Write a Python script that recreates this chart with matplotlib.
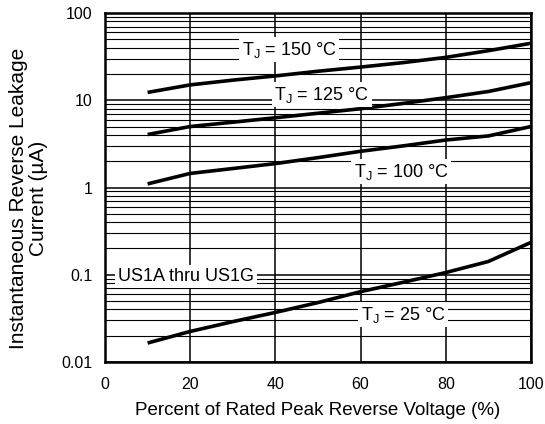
import matplotlib.pyplot as plt
import numpy as np

plt.rcParams['font.family'] = ['Liberation Sans', 'DejaVu Sans']

# percent of rated peak reverse voltage
voltage_pct = [10, 20, 30, 40, 50, 60, 70, 80, 90, 100]

# leakage current (uA) per junction temperature
leak_150 = [12.3, 15.0, 17.0, 19.0, 21.5, 24.0, 27.0, 31.0, 37.0, 45.0]
leak_125 = [4.05, 5.0, 5.6, 6.3, 7.1, 8.0, 9.2, 10.7, 12.6, 15.9]
leak_100 = [1.1, 1.45, 1.65, 1.88, 2.2, 2.6, 3.0, 3.5, 3.9, 5.0]
leak_25 = [0.0165, 0.0224, 0.029, 0.037, 0.048, 0.064, 0.082, 0.106, 0.142, 0.235]

curve_labels = ["T$_\\mathregular{J}$ = 150 °C", "T$_\\mathregular{J}$ = 125 °C",
                "T$_\\mathregular{J}$ = 100 °C", "T$_\\mathregular{J}$ = 25 °C"]
label_pos = [(43.2, 38), (50.9, 11.6), (69.5, 1.52), (70, 0.035)]

fig = plt.figure(figsize=(5.45, 4.24), dpi=100)
ax = fig.add_axes([105 / 545, 62 / 424, 426 / 545, 349 / 424])

for vals in [leak_150, leak_125, leak_100, leak_25]:
    ax.plot(voltage_pct, vals, color='black', linewidth=2.6, solid_capstyle='butt', zorder=3)

ax.set_yscale('log')
ax.set_xlim(0, 100)
ax.set_ylim(0.01, 100)
ax.set_xticks([0, 20, 40, 60, 80, 100])
ax.set_yticks([0.01, 0.1, 1, 10, 100])
ax.set_yticklabels(['0.01', '0.1', '1', '10', '100'])
ax.yaxis.set_minor_locator(plt.LogLocator(base=10, subs=np.arange(2, 10)))
ax.yaxis.set_minor_formatter(plt.NullFormatter())

ax.grid(which='major', color='black', linewidth=1.1)
ax.grid(which='minor', axis='y', color='black', linewidth=0.8)
ax.tick_params(which='both', length=0, labelsize=11.5)
ax.tick_params(axis='y', pad=9)
ax.tick_params(axis='x', pad=11)
for s in ax.spines.values():
    s.set_linewidth(1.8)

for txt, (x, y) in zip(curve_labels, label_pos):
    ax.text(x, y, txt, ha='center', va='center', fontsize=13, zorder=4,
            bbox=dict(facecolor='white', edgecolor='none', pad=2))

ax.text(19, 0.096, "US1A thru US1G", ha='center', va='center', fontsize=13, zorder=4,
        bbox=dict(facecolor='white', edgecolor='none', pad=2))

ax.set_xlabel("Percent of Rated Peak Reverse Voltage (%)", fontsize=13.5, labelpad=7)
ax.set_ylabel("Instantaneous Reverse Leakage\nCurrent (µA)", fontsize=15,
              multialignment='center', linespacing=1.05)
ax.yaxis.set_label_coords(-0.134, 0.47)

plt.savefig("out.png", dpi=100)
